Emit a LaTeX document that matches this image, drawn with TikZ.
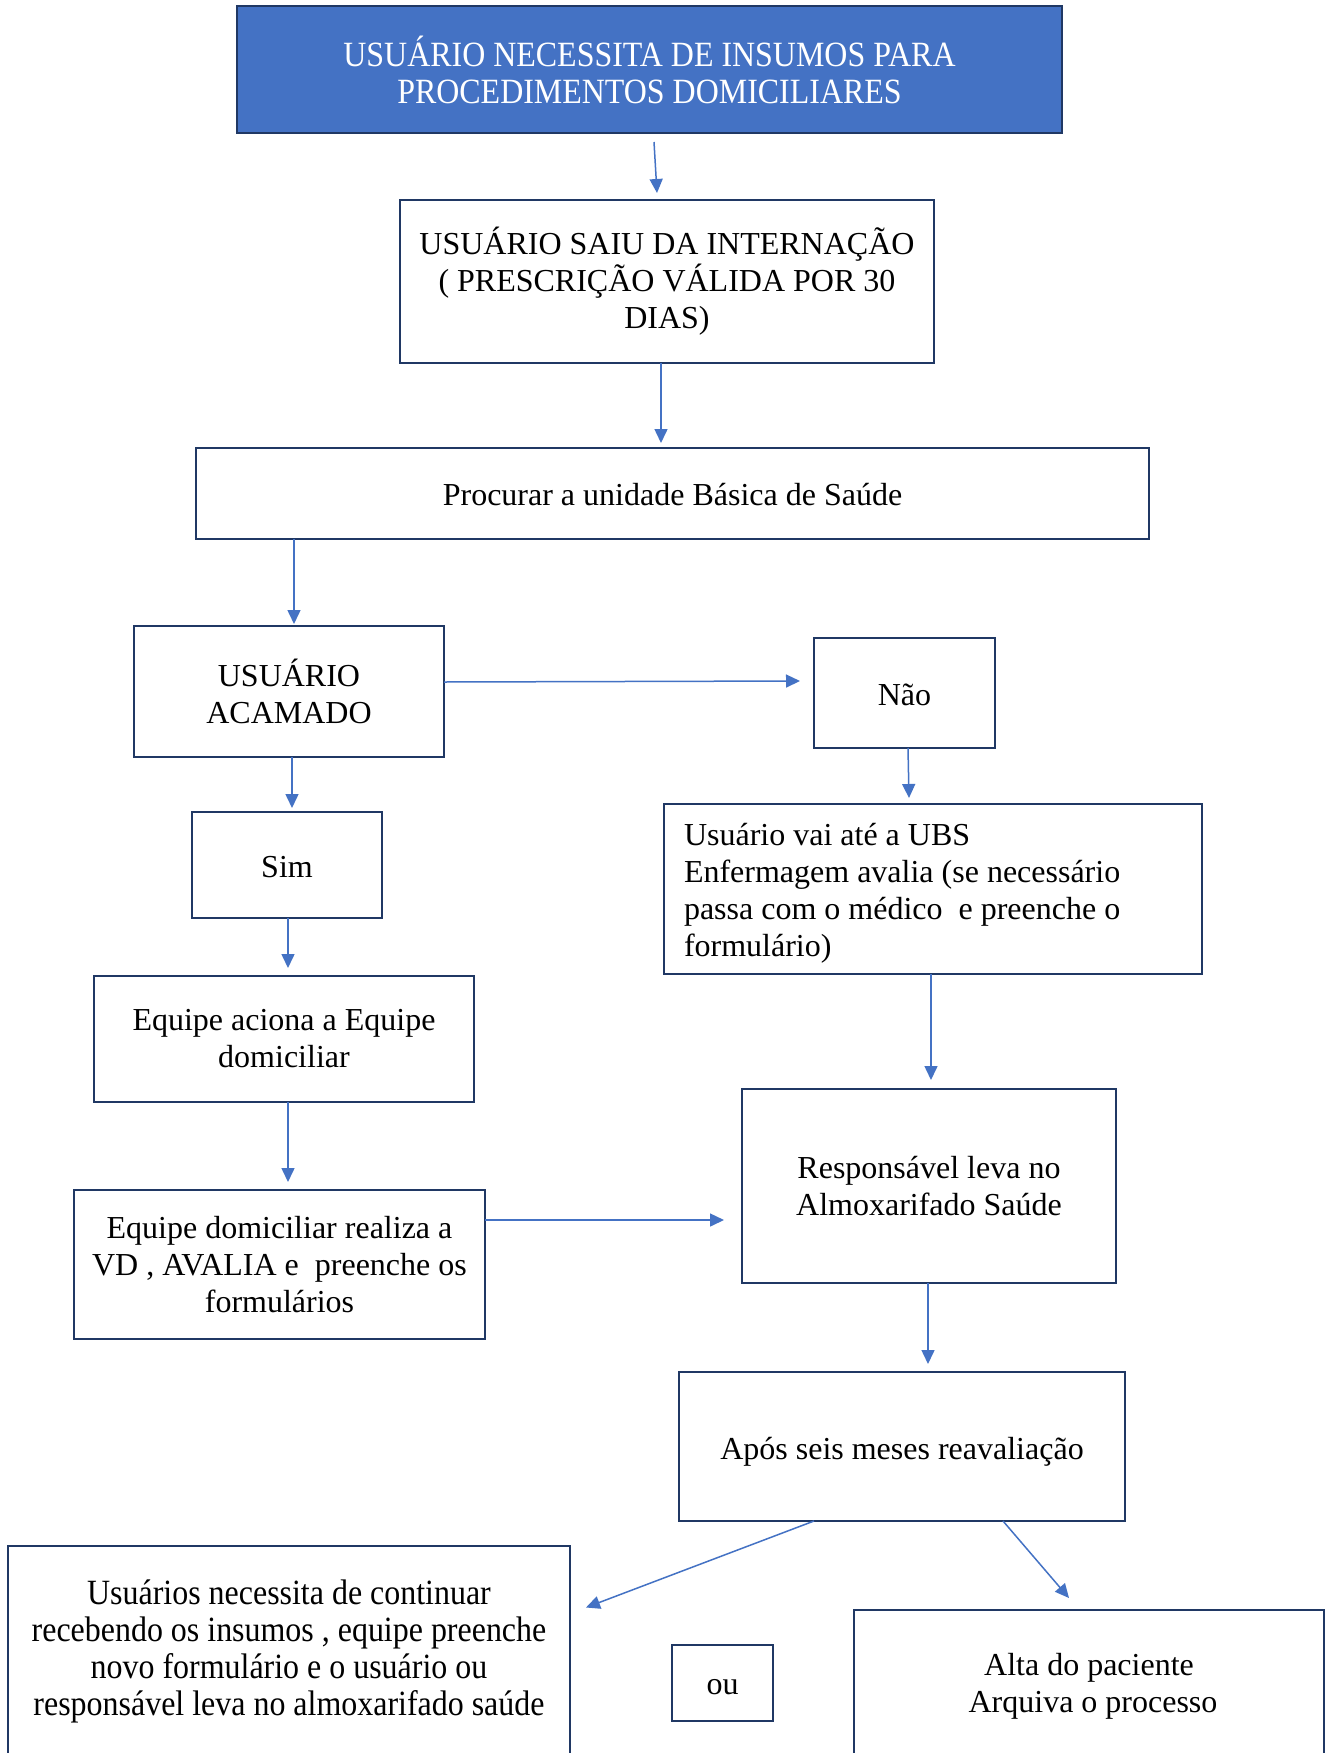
\documentclass[tikz,border=0pt]{standalone}
\usepackage{fontspec}
\setmainfont{Liberation Serif}
\newfontfamily\condfont[FakeStretch=0.9]{Liberation Serif}
\usetikzlibrary{arrows.meta,calc}
\definecolor{boxblue}{HTML}{4472C4}
\definecolor{navy}{HTML}{203864}
\definecolor{arrowblue}{HTML}{4472C4}
\newcommand{\lowerby}[2]{\raisebox{-#1}[\height][\depth]{#2}}
\begin{document}
\begin{tikzpicture}[x=1pt,y=-1pt,
  box/.style={draw=navy,line width=2.5pt,inner sep=0pt,outer sep=0pt,align=center,
    font=\fontsize{32}{37}\selectfont},
  condbox/.style={box,font=\condfont\fontsize{35.5}{37}\selectfont},
  arr/.style={draw=arrowblue,line width=1.5pt,-{Triangle[length=14pt,width=13pt]}}]
\clip (0,0) rectangle (1326,1753);
\fill[white] (0,0) rectangle (1326,1753);

\node[condbox,fill=boxblue,text=white,minimum width=825pt,minimum height=127pt] (top) at (649.5,69.5)
  {USUÁRIO NECESSITA DE INSUMOS PARA\\PROCEDIMENTOS DOMICILIARES};
\node[box,minimum width=534pt,minimum height=163pt] (b2) at (667,281.5)
  {USUÁRIO SAIU DA INTERNAÇÃO\\( PRESCRIÇÃO VÁLIDA POR 30\\DIAS)};
\node[box,minimum width=953pt,minimum height=91pt] (b3) at (672.5,493.5)
  {\lowerby{1pt}{Procurar a unidade Básica de Saúde}};
\node[box,minimum width=310pt,minimum height=131pt] (ac) at (289,691.5)
  {USUÁRIO\\ACAMADO};
\node[box,minimum width=181pt,minimum height=110pt] (nao) at (904.5,693) {\lowerby{2pt}{Não}};
\node[box,minimum width=190pt,minimum height=106pt] (sim) at (287,865) {\lowerby{2pt}{Sim}};
\node[box,minimum width=538pt,minimum height=170pt] (ubs) at (933,889)
  {\lowerby{5pt}{\makebox[498pt][l]{\begin{tabular}{@{}l@{}}Usuário vai até a UBS\\Enfermagem avalia (se necessário\\passa com o médico\ \ e preenche o\\formulário)\end{tabular}}}};
\node[box,minimum width=380pt,minimum height=126pt] (aciona) at (284,1039)
  {Equipe aciona a Equipe\\domiciliar};
\node[box,minimum width=374pt,minimum height=194pt] (resp) at (929,1186)
  {Responsável leva no\\Almoxarifado Saúde};
\node[box,minimum width=411pt,minimum height=149pt] (dom) at (279.5,1264.5)
  {Equipe domiciliar realiza a\\VD , AVALIA e\ \ preenche os\\formulários};
\node[box,minimum width=446pt,minimum height=149pt] (apos) at (902,1446.5)
  {\lowerby{5pt}{Após seis meses reavaliação}};
\node[condbox,minimum width=562pt,minimum height=211pt] (cont) at (289,1651.5)
  {Usuários necessita de continuar\\recebendo os insumos , equipe preenche\\novo formulário e o usuário ou\\responsável leva no almoxarifado saúde};
\node[box,minimum width=101pt,minimum height=76pt] (ou) at (722.5,1683) {\lowerby{4pt}{ou}};
\node[box,minimum width=470pt,minimum height=152pt] (alta) at (1089,1686)
  {Alta do paciente\\~Arquiva o processo};

\draw[arr] ($(top.south)+(4.5,9)$) -- ($(b2.north)+(-10,-7)$);
\draw[arr] ($(b2.south)+(-6,0)$) -- ($(b3.north)+(-11.5,-5)$);
\draw[arr] ($(b3.south -| ac.north)+(5,0)$) -- ($(ac.north)+(5,-2)$);
\draw[arr] ($(ac.east)+(0,-9.5)$) -- ($(nao.west)+(-14,-12)$);
\draw[arr] ($(nao.south)+(3.5,0)$) -- ($(ubs.north)+(-24,-6)$);
\draw[arr] ($(ac.south)+(3,0)$) -- ($(sim.north)+(5,-4)$);
\draw[arr] ($(sim.south)+(1,0)$) -- ($(aciona.north)+(4,-8)$);
\draw[arr] ($(aciona.south)+(4,0)$) -- ($(dom.north)+(8.5,-8)$);
\draw[arr] ($(dom.east)+(0,-44.5)$) -- ($(resp.west)+(-18,34)$);
\draw[arr] ($(ubs.south)+(-2,0)$) -- ($(resp.north)+(2,-9)$);
\draw[arr] ($(resp.south)+(-1,0)$) -- ($(apos.north)+(26,-8)$);
\draw[arr] ($(apos.south)+(-88,0)$) -- ($(cont.east)+(16,-44)$);
\draw[arr] ($(apos.south)+(101,0)$) -- ($(alta.north)+(-20,-12)$);
\end{tikzpicture}
\end{document}
